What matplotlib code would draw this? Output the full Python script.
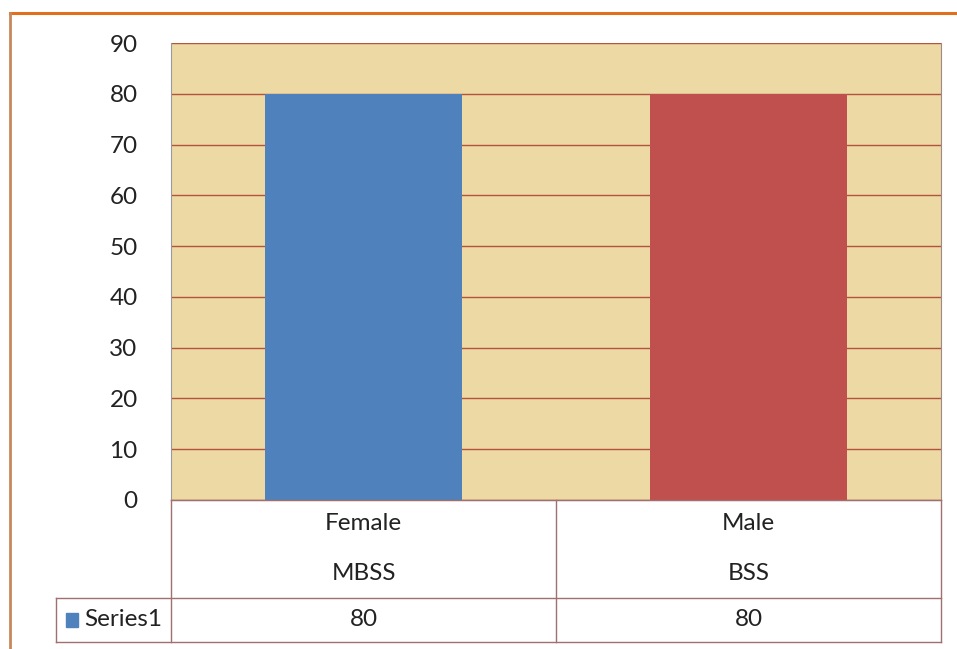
import matplotlib
matplotlib.use("Agg")
import matplotlib.pyplot as plt
from matplotlib.lines import Line2D
from matplotlib.patches import Rectangle
import matplotlib.transforms as mtransforms

categories = ["Female", "Male"]
subcategories = ["MBSS", "BSS"]
values = [80, 80]
series_name = "Series1"
bar_colors = ["#4F81BD", "#C0504D"]
yticks = [0, 10, 20, 30, 40, 50, 60, 70, 80, 90]

W, H = 957, 649
fig = plt.figure(figsize=(W / 100, H / 100), dpi=100)
plt.rcParams['font.family'] = ['Lato', 'DejaVu Sans']
FS = 17.5
TXT = "#222222"

def fx(px):
    return px / W

def fy(py):
    return 1 - py / H

left, right, top, bottom = 171, 941, 43, 500
ax = fig.add_axes([fx(left), fy(bottom), fx(right) - fx(left), fy(top) - fy(bottom)])
ax.set_facecolor("#ECD9A4")
x = list(range(len(categories)))
ax.bar(x, values, width=0.51, color=bar_colors, zorder=3)
ax.set_xlim(-0.5, len(categories) - 0.5)
ax.set_ylim(0, 90)
ax.set_yticks(yticks)
ax.set_yticklabels([str(t) for t in yticks], fontsize=FS, color=TXT)
ax.tick_params(axis="y", length=0, pad=24)
ax.tick_params(axis="x", length=0, labelbottom=False)
ax.grid(axis="y", color="#B5533F", linewidth=1.0, zorder=1)
ax.set_axisbelow(True)
ax.spines["top"].set_visible(False)
ax.spines["right"].set_color("#A08888")
ax.spines["left"].set_color("#9A9A9A")
ax.spines["bottom"].set_color("#C87F70")

# Table below plot
tc = "#A07070"
def hline(x0, x1, y):
    fig.add_artist(Line2D([fx(x0), fx(x1)], [fy(y), fy(y)], color=tc, lw=1.0))

def vline(xx, y0, y1):
    fig.add_artist(Line2D([fx(xx), fx(xx)], [fy(y0), fy(y1)], color=tc, lw=1.0))

hline(left, right, bottom)
hline(56, right, 598)
hline(56, right, 642)
vline(56, 598, 642)
vline(left, bottom, 642)
mid = (left + right) / 2
vline(mid, bottom, 642)
vline(right, bottom, 642)

trans = mtransforms.blended_transform_factory(ax.transData, fig.transFigure)
for i, (c, s, v) in enumerate(zip(categories, subcategories, values)):
    fig.text(i, fy(524), c, transform=trans, ha="center", va="center", fontsize=FS, color=TXT)
    fig.text(i, fy(574), s, transform=trans, ha="center", va="center", fontsize=FS, color=TXT)
    fig.text(i, fy(620), str(v), transform=trans, ha="center", va="center", fontsize=FS, color=TXT)

fig.add_artist(Rectangle((fx(66), fy(627)), fx(12), fy(613) - fy(627), color=bar_colors[0]))
fig.text(fx(84), fy(619), series_name, ha="left", va="center", fontsize=FS, color=TXT)

# outer frame lines
fig.add_artist(Line2D([fx(10), 1], [fy(13), fy(13)], color="#E07020", lw=2.2))
fig.add_artist(Line2D([fx(10), fx(10)], [fy(13), 0], color="#C8885A", lw=2.0))

fig.savefig("out.png", dpi=100)
